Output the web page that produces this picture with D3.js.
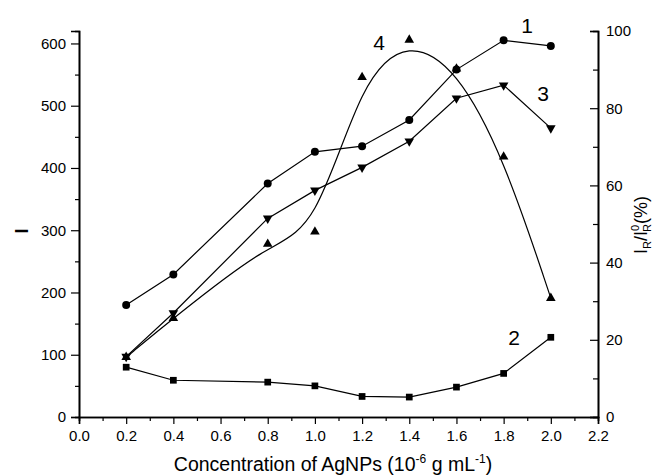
<!DOCTYPE html>
<html>
<head>
<meta charset="utf-8">
<script src="https://cdn.jsdelivr.net/npm/d3@7"></script>
<style>
body { margin: 0; background: #fff; }
text { font-family: "Liberation Sans", Arial, sans-serif; fill: #000; }
</style>
</head>
<body>
<script>
var width = 654;
var height = 476;

var margin = { top: 31, right: 56, bottom: 59, left: 79 };

// concentration of AgNPs
var conc = [0.2, 0.4, 0.8, 1.0, 1.2, 1.4, 1.6, 1.8, 2.0];
// intensity I (left axis)
var curve1 = [180, 229, 375, 426, 435, 477, 558, 605, 596];
var curve2 = [80, 59, 56, 50, 33, 32, 48, 70, 128];
var curve3 = [97, 167, 319, 364, 401, 443, 512, 533, 464];
// I_R / I0_R (%) (right axis)
var curve4 = [15.5, 25.6, 44.8, 48, 88, 97.7, 90.2, 67.4, 30.8];

var xTicks = [0.0, 0.2, 0.4, 0.6, 0.8, 1.0, 1.2, 1.4, 1.6, 1.8, 2.0, 2.2];
var yLeftTicks = [0, 100, 200, 300, 400, 500, 600];
var yRightTicks = [0, 20, 40, 60, 80, 100];

var x = d3.scaleLinear().domain([0, 2.2]).range([margin.left, width - margin.right]);
var yL = d3.scaleLinear().domain([0, 620]).range([height - margin.bottom, margin.top]);
var yR = d3.scaleLinear().domain([0, 100]).range([height - margin.bottom, margin.top]);

var svg = d3.select('body')
    .append('svg')
    .attr('width', width)
    .attr('height', height);

function styleAxis(g) {
    g.select('.domain').attr('stroke', '#000').attr('stroke-width', 1.6);
    g.selectAll('.tick line').attr('stroke', '#000').attr('stroke-width', 1.2);
    g.selectAll('.tick text').style('font-size', '15px').style('font-family', '"Liberation Sans", Arial, sans-serif');
}

// minor ticks first
svg.append('g')
    .attr('transform', 'translate(0,' + (height - margin.bottom) + ')')
    .call(d3.axisBottom(x).tickValues(d3.range(0.1, 2.2, 0.2)).tickSize(4).tickFormat(''))
    .call(styleAxis);
svg.append('g')
    .attr('transform', 'translate(' + margin.left + ',0)')
    .call(d3.axisLeft(yL).tickValues(d3.range(50, 620, 100)).tickSize(4).tickFormat(''))
    .call(styleAxis);
svg.append('g')
    .attr('transform', 'translate(' + (width - margin.right) + ',0)')
    .call(d3.axisRight(yR).tickValues(d3.range(10, 100, 20)).tickSize(-5).tickFormat(''))
    .call(styleAxis)
    .selectAll('.tick text').remove();

var xAxis = svg.append('g')
    .attr('transform', 'translate(0,' + (height - margin.bottom) + ')')
    .call(d3.axisBottom(x).tickValues(xTicks).tickSize(7).tickPadding(6).tickFormat(d3.format('.1f')))
    .call(styleAxis);

var yAxisL = svg.append('g')
    .attr('transform', 'translate(' + margin.left + ',0)')
    .call(d3.axisLeft(yL).tickValues(yLeftTicks).tickSize(8).tickPadding(5))
    .call(styleAxis);

var yAxisR = svg.append('g')
    .attr('transform', 'translate(' + (width - margin.right) + ',0)')
    .call(d3.axisRight(yR).tickValues(yRightTicks).tickSize(-8).tickPadding(16))
    .call(styleAxis);
yAxisR.selectAll('.tick text').attr('x', 8);

// data lines
var lineL = d3.line()
    .x(function(d, i) { return x(conc[i]); })
    .y(function(d) { return yL(d); });

[curve1, curve2, curve3].forEach(function(s) {
    svg.append('path')
        .attr('d', lineL(s))
        .attr('fill', 'none')
        .attr('stroke', '#000')
        .attr('stroke-width', 1.2);
});

var lineR = d3.line()
    .curve(d3.curveBasis)
    .x(function(d, i) { return x(conc[i]); })
    .y(function(d) { return yR(d); });

svg.append('path')
    .attr('d', lineR(curve4))
    .attr('fill', 'none')
    .attr('stroke', '#000')
    .attr('stroke-width', 1.2);

// markers
var circle = d3.symbol().type(d3.symbolCircle).size(50);
var square = d3.symbol().type(d3.symbolSquare).size(45);
var tri = d3.symbol().type(d3.symbolTriangle).size(40);

function markers(data, sym, yScale, rot) {
    svg.append('g').selectAll('path')
        .data(data)
        .enter()
        .append('path')
        .attr('d', sym)
        .attr('fill', '#000')
        .attr('transform', function(d, i) {
            return 'translate(' + x(conc[i]) + ',' + yScale(d) + ')' + (rot ? ' rotate(180)' : '');
        });
}
markers(curve1, circle, yL, false);
markers(curve2, square, yL, false);
markers(curve3, tri, yL, true);
markers(curve4, tri, yR, false);

// curve numbers
var labels = [['1', 527, 33], ['4', 379, 50], ['3', 543, 101], ['2', 514, 345]];
svg.selectAll('text.num')
    .data(labels)
    .enter()
    .append('text')
    .attr('class', 'num')
    .attr('x', function(d) { return d[1]; })
    .attr('y', function(d) { return d[2]; })
    .attr('text-anchor', 'middle')
    .style('font-size', '21px')
    .text(function(d) { return d[0]; });

// axis titles
var xt = svg.append('text')
    .attr('x', 333)
    .attr('y', 471)
    .attr('text-anchor', 'middle')
    .style('font-size', '19.5px');
xt.append('tspan').text('Concentration of AgNPs (10');
xt.append('tspan').attr('dy', -8).style('font-size', '12px').text('-6');
xt.append('tspan').attr('dy', 8).text(' g mL');
xt.append('tspan').attr('dy', -8).style('font-size', '12px').text('-1');
xt.append('tspan').attr('dy', 8).text(')');

svg.append('text')
    .attr('transform', 'translate(28,231) rotate(-90)')
    .attr('text-anchor', 'middle')
    .style('font-size', '18px')
    .style('font-weight', 'bold')
    .text('I');

var yt = svg.append('text')
    .attr('transform', 'translate(647,225) rotate(-90)')
    .attr('text-anchor', 'middle')
    .style('font-size', '18px');
yt.append('tspan').text('I');
yt.append('tspan').attr('dy', 4).style('font-size', '11px').text('R');
yt.append('tspan').attr('dy', -4).text('/I');
yt.append('tspan').attr('dy', -8).style('font-size', '11px').text('0');
yt.append('tspan').attr('dy', 12).attr('dx', -7).style('font-size', '11px').text('R');
yt.append('tspan').attr('dy', -4).text('(%)');
</script>
</body>
</html>
